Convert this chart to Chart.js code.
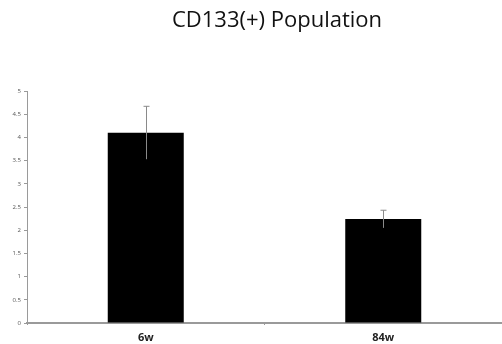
<!DOCTYPE html>
<html>
<head>
<meta charset="utf-8">
<script src="https://cdn.jsdelivr.net/npm/chart.js@4/dist/chart.umd.min.js"></script>
<style>
  html, body { margin: 0; padding: 0; background: #fff; }
  #wrap { width: 502px; height: 344px; }
</style>
</head>
<body>
<div id="wrap"><canvas id="popChart" width="502" height="344"></canvas></div>
<script>
const chartTitle = 'CD133(+) Population';
const categories = ['6w', '84w'];
const values = [4.1, 2.24];
const errors = [0.57, 0.19];
const yTicks = [0, 0.5, 1, 1.5, 2, 2.5, 3, 3.5, 4, 4.5, 5];

// draws the error whiskers through the chart's own scales
const errorBars = {
  id: 'errorBars',
  afterDatasetsDraw(chart) {
    const ctx = chart.ctx;
    const x = chart.scales.x, y = chart.scales.y;
    ctx.save();
    ctx.strokeStyle = '#8a8a8a';
    ctx.lineWidth = 1;
    values.forEach((v, i) => {
      const cx = Math.round(x.getPixelForValue(i)) + 0.5;
      const top = y.getPixelForValue(v + errors[i]);
      const bot = y.getPixelForValue(v - errors[i]);
      ctx.beginPath();
      ctx.moveTo(cx, top);
      ctx.lineTo(cx, bot);
      ctx.moveTo(cx - 3, top);
      ctx.lineTo(cx + 3, top);
      ctx.stroke();
    });
    ctx.restore();
  }
};

// title sits a bit right of centre in the original, so place it by hand
const offsetTitle = {
  id: 'offsetTitle',
  afterDraw(chart) {
    const ctx = chart.ctx;
    ctx.save();
    ctx.fillStyle = '#111';
    ctx.font = '22px "Open Sans"';
    ctx.textAlign = 'center';
    ctx.textBaseline = 'middle';
    ctx.fillText(chartTitle, 277, 21);
    ctx.restore();
  }
};

new Chart(document.getElementById('popChart'), {
  type: 'bar',
  data: {
    labels: categories,
    datasets: [{
      data: values,
      backgroundColor: '#000',
      categoryPercentage: 1,
      barPercentage: 0.32
    }]
  },
  options: {
    responsive: false,
    animation: false,
    layout: { padding: { left: 0, right: 0, top: 91, bottom: 0 } },
    plugins: {
      legend: { display: false },
      tooltip: { enabled: false },
      title: { display: false }
    },
    scales: {
      x: {
        border: { color: '#9a9a9a', width: 2 },
        grid: { display: true, drawOnChartArea: false, tickLength: 2, color: '#9a9a9a' },
        ticks: {
          color: '#222',
          padding: 6,
          font: { family: 'Open Sans', size: 11, weight: 'bold' }
        },
        afterFit(s) { s.height = 21; }
      },
      y: {
        min: 0,
        max: 5,
        afterBuildTicks(s) { s.ticks = yTicks.map(v => ({ value: v })); },
        border: { color: '#9a9a9a', width: 1 },
        grid: { display: true, drawOnChartArea: false, tickLength: 3, color: '#9a9a9a' },
        ticks: {
          color: '#555',
          padding: 3,
          font: { family: 'Open Sans', size: 6 },
          callback: v => String(v)
        },
        afterFit(s) { s.width = 27; }
      }
    }
  },
  plugins: [errorBars, offsetTitle]
});
</script>
</body>
</html>
